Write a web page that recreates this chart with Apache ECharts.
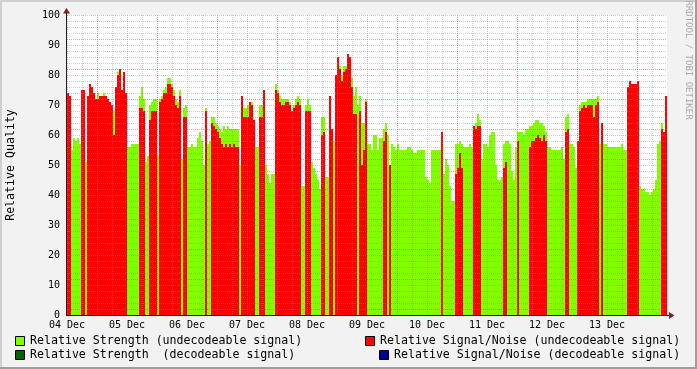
<!DOCTYPE html>
<html><head><meta charset="utf-8">
<script src="https://cdn.jsdelivr.net/npm/echarts@6/dist/echarts.min.js"></script>
<style>html,body{margin:0;padding:0;background:#f2f2f2}#c{width:697px;height:369px}</style>
</head><body><div id="c"></div>
<script>
// Day labels on the time axis (hours from 04 Dec 00:00)
const dayLabels = ['04 Dec','05 Dec','06 Dec','07 Dec','08 Dec','09 Dec','10 Dec','11 Dec','12 Dec','13 Dec'];
const hoursSpan = 240;
const yMax = 100;

// Relative Strength (undecodeable signal) - one value per 48 minutes
const strengthUndec = [
74,73,55,59,58,59,57,75,75,51,
73,77,76,74,72,74,73,73,74,73,
72,71,70,68,76,81,82,75,81,74,
56,56,57,57,57,57,73,76,72,51,
53,70,71,72,72,53,72,73,75,76,
79,79,77,75,72,71,75,52,69,70,
56,56,57,56,56,59,61,58,50,69,
57,58,66,66,64,63,62,61,63,62,
63,62,62,62,62,62,50,73,69,69,
70,71,71,65,56,56,70,70,75,50,
47,44,47,47,77,75,73,72,72,72,
72,71,68,70,72,73,72,43,43,70,
72,70,51,49,47,45,42,66,66,46,
46,73,62,58,80,86,83,80,83,83,
87,86,79,73,76,70,73,64,64,72,
57,57,55,60,60,55,59,59,62,64,
60,50,57,56,55,57,55,55,55,55,
56,56,55,54,54,55,55,55,55,46,
45,44,55,55,55,55,55,61,47,52,
50,43,38,38,57,57,58,57,56,56,
56,57,56,63,64,67,65,52,57,57,
56,60,61,61,50,45,45,46,57,58,
58,57,48,45,56,61,61,61,60,62,
62,63,63,64,65,65,64,64,63,61,
56,56,55,55,55,55,55,56,52,66,
67,57,57,56,49,58,70,71,71,71,
72,72,72,72,72,73,57,64,57,57,
56,56,56,56,56,56,56,57,55,55,
76,78,77,77,77,78,43,42,42,41,
41,40,41,42,45,57,58,64,61,73
];

// Relative Signal/Noise (undecodeable signal) - null where absent
const n = null;
const snrUndec = [
74,73,n,n,n,n,n,75,75,n,
73,77,76,74,72,72,73,73,73,73,
72,71,70,60,76,80,82,75,81,74,
n,n,n,n,n,n,69,69,68,n,
n,65,68,68,68,n,71,72,74,74,
77,77,76,73,70,69,73,n,66,66,
n,n,n,n,n,n,n,n,n,68,
n,n,64,63,62,61,59,57,56,57,
56,57,56,57,56,56,n,73,66,66,
66,71,70,65,n,n,66,66,75,n,
n,n,n,n,75,74,71,70,70,71,
71,70,68,69,70,71,70,n,n,68,
68,68,n,n,n,n,n,60,61,n,
n,73,62,n,80,86,82,78,81,82,
87,86,76,67,67,n,68,50,55,71,
n,n,n,n,n,n,n,n,58,61,
n,50,n,n,n,n,n,n,n,n,
n,n,n,n,n,n,n,n,n,n,
n,n,n,n,n,n,n,61,n,n,
n,n,n,n,47,49,54,49,n,n,
n,n,n,63,62,63,63,n,n,n,
n,n,n,n,n,n,n,n,49,51,
n,n,n,n,n,58,n,n,n,n,
n,56,58,58,59,60,59,58,60,58,
n,n,n,n,n,n,n,n,n,61,
62,n,n,n,n,58,68,69,70,69,
70,70,70,66,70,71,n,64,n,n,
n,n,n,n,n,n,n,n,n,n,
76,78,77,77,77,78,n,n,n,n,
n,n,n,n,n,n,n,62,61,73
];

const legendItems = [
  {name:'Relative Strength (undecodeable signal)', color:'#80ff00'},
  {name:'Relative Strength  (decodeable signal)', color:'#006600'},
  {name:'Relative Signal/Noise (undecodeable signal)', color:'#ff0000'},
  {name:'Relative Signal/Noise (decodeable signal)', color:'#000099'}
];

const MONO = '"DejaVu Sans Mono", monospace';
const minorC = 'rgba(143,143,143,0.45)';
const majorC = 'rgba(222,79,79,0.55)';
const bins = strengthUndec.map((_, i) => i);

const chart = echarts.init(document.getElementById('c'));

function legendGraphic() {
  const els = [];
  const pos = [
    {sx:15, tx:30, y:341},
    {sx:15, tx:30, y:355},
    {sx:365, tx:380, y:341},
    {sx:379, tx:394, y:355}
  ];
  legendItems.forEach((it, k) => {
    const p = pos[k];
    els.push({type:'rect', z:100, shape:{x:p.sx+0.5, y:p.y-4.5, width:9, height:9},
      style:{fill:it.color, stroke:'#000', lineWidth:1}});
    els.push({type:'text', z:100, x:p.tx, y:p.y,
      style:{text:it.name, font:'11.6px ' + MONO, fill:'#000', align:'left', verticalAlign:'middle', textAlign:'left', textVerticalAlign:'middle'}});
  });
  return els;
}

const option = {
  animation: false,
  backgroundColor: '#f2f2f2',
  grid: {left:67, right:30, top:15, bottom:54, show:true, backgroundColor:'#ffffff', borderWidth:0, containLabel:false},
  xAxis: [
    {type:'category', data:bins, show:false, boundaryGap:true},
    {type:'value', min:0, max:hoursSpan, interval:6, position:'bottom', z:3,
      axisLine:{show:false}, axisTick:{show:false},
      axisLabel:{fontFamily:MONO, fontSize:10, color:'#000', margin:5,
        showMinLabel:true, showMaxLabel:true,
        formatter: v => (v % 24 === 0 && v / 24 < dayLabels.length) ? dayLabels[v / 24] : ''},
      splitLine:{show:true, showMaxLine:false, lineStyle:{color:[minorC, minorC, majorC, minorC], width:1, type:[1,1]}}}
  ],
  yAxis: [
    {type:'value', min:0, max:yMax, interval:2, z:3,
      axisLine:{show:false}, axisTick:{show:false},
      axisLabel:{fontFamily:MONO, fontSize:10, color:'#000', margin:7,
        showMinLabel:true, showMaxLabel:true,
        formatter: v => (v % 10 === 0) ? String(v) : ''},
      splitLine:{show:true, showMinLine:false, lineStyle:{color:[majorC, minorC, minorC, minorC, minorC], width:1, type:[1,1]}}}
  ],
  series: [
    {type:'bar', name:legendItems[0].name, xAxisIndex:0, yAxisIndex:0, data:strengthUndec,
      barWidth:'100%', barGap:'-100%', barCategoryGap:'0%', itemStyle:{color:'#80ff00'}, silent:true},
    {type:'bar', name:legendItems[2].name, xAxisIndex:0, yAxisIndex:0, data:snrUndec,
      barWidth:'100%', barGap:'-100%', barCategoryGap:'0%', itemStyle:{color:'#ff0000'}, silent:true}
  ],
  graphic: [
    // frame shading
    {type:'line', z:100, shape:{x1:0, y1:1, x2:697, y2:1}, style:{stroke:'#cfcfcf', lineWidth:2}},
    {type:'line', z:100, shape:{x1:1, y1:0, x2:1, y2:369}, style:{stroke:'#cfcfcf', lineWidth:2}},
    {type:'line', z:100, shape:{x1:0, y1:368, x2:697, y2:368}, style:{stroke:'#9e9e9e', lineWidth:2}},
    {type:'line', z:100, shape:{x1:696, y1:0, x2:696, y2:369}, style:{stroke:'#9e9e9e', lineWidth:2}},
    // axes
    {type:'line', z:100, shape:{x1:66, y1:315.5, x2:670, y2:315.5}, style:{stroke:'#1f1f1f', lineWidth:1}},
    {type:'line', z:100, shape:{x1:66.5, y1:316, x2:66.5, y2:11}, style:{stroke:'#1f1f1f', lineWidth:1}},
    {type:'polygon', z:101, shape:{points:[[669,312],[674.5,315.5],[669,319]]}, style:{fill:'#7f1f1f'}},
    {type:'polygon', z:101, shape:{points:[[63,13.5],[66.5,8],[70,13.5]]}, style:{fill:'#7f1f1f'}},
    // y title
    {type:'text', z:100, x:11, y:165, rotation:Math.PI/2,
      style:{text:'Relative Quality', font:'11.6px ' + MONO, fill:'#000', align:'center', verticalAlign:'middle', textAlign:'center', textVerticalAlign:'middle'}},
    // watermark
    {type:'text', z:100, x:688, y:60, rotation:-Math.PI/2,
      style:{text:'RRDTOOL / TOBI OETIKER', font:'9px ' + MONO, fill:'#aaaaaa', align:'center', verticalAlign:'middle', textAlign:'center', textVerticalAlign:'middle'}}
  ].concat(legendGraphic())
};
chart.setOption(option);
</script></body></html>
